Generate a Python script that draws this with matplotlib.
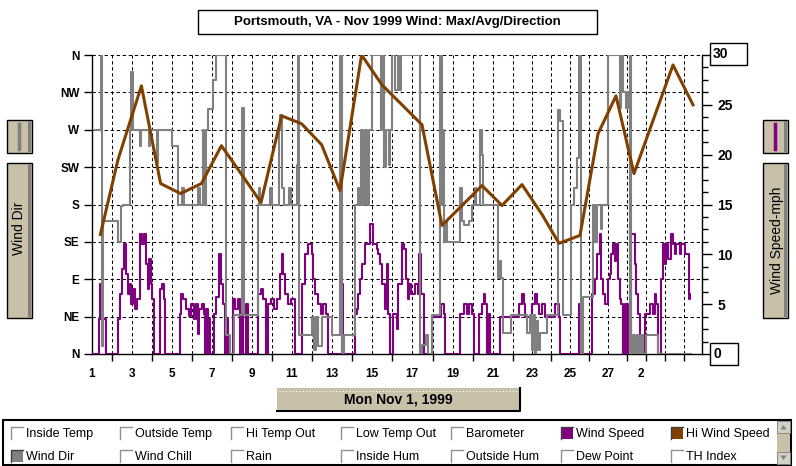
import numpy as np
import matplotlib
matplotlib.use("Agg")
import matplotlib.pyplot as plt
import matplotlib.transforms as mtransforms
from matplotlib.patches import Rectangle, Polygon

plt.rcParams['font.family'] = ['Liberation Sans', 'DejaVu Sans']

W, H = 796, 466

# x positions are in plot "day" units (1 unit = one daily grid step)
grid_days = list(range(0, 17)) + [17.05, 18.05, 19.05, 20.05, 21.05, 22.0, 22.95,
                                  23.9, 24.85, 25.8, 26.75, 27.7, 28.65, 29.6]
day_ticks = [0, 2, 4, 6, 8, 10, 12, 14, 16, 18.05, 20.05, 22.0, 23.9, 25.8, 27.45]
day_labels = ['1', '3', '5', '7', '9', '11', '13', '15', '17', '19', '21', '23', '25', '27', '2']

dir_levels = [0, 45, 90, 135, 180, 225, 270, 315, 360]
dir_labels = ['N', 'NE', 'E', 'SE', 'S', 'SW', 'W', 'NW', 'N']

# Wind speed (mph), step series
speed_t = [0.00, 0.37, 0.42, 0.47, 0.72, 1.30, 1.38, 1.50, 1.62, 1.70, 1.80, 1.90, 1.97,
           2.05, 2.15, 2.25, 2.38, 2.50, 2.60, 2.70, 2.80, 2.85, 2.95, 3.02, 3.08, 3.38,
           3.50, 3.58, 3.66, 4.40, 4.45, 4.55, 4.70, 4.85, 4.95, 5.10, 5.20, 5.28, 5.35,
           5.50, 5.60, 5.65, 5.72, 5.78, 5.85, 5.92, 6.08, 6.20, 6.35, 6.45, 6.55, 6.65,
           6.75, 6.80, 7.05, 7.15, 7.30, 7.40, 7.50, 7.55, 7.70, 7.78, 8.30, 8.45, 8.55,
           8.68, 8.82, 8.95, 9.10, 9.25, 9.40, 9.48, 9.57, 9.65, 9.80, 9.95, 10.15, 10.48,
           10.65, 10.82, 10.98, 11.07, 11.15, 11.30, 11.45, 11.55, 11.72, 11.82, 12.48,
           12.57, 13.15, 13.25, 13.32, 13.40, 13.48, 13.65, 13.90, 14.07, 14.23, 14.32,
           14.40, 14.48, 14.65, 14.73, 14.82, 14.90, 15.07, 15.23, 15.32, 15.48, 15.62,
           15.70, 15.78, 15.85, 15.95, 16.15, 16.30, 16.37, 16.45, 16.60, 17.00, 17.47,
           17.58, 17.67, 18.42, 18.58, 18.75, 18.83, 19.00, 19.08, 19.33, 19.50, 19.58,
           19.65, 19.75, 19.83, 19.92, 20.42, 21.33, 21.50, 21.58, 21.67, 22.00, 22.17,
           22.25, 22.33, 22.50, 22.67, 23.17, 23.33, 23.40, 24.33, 24.43, 25.00, 25.13,
           25.27, 25.38, 25.43, 25.47, 25.55, 25.63, 25.80, 25.88, 25.97, 26.05, 26.13,
           26.22, 26.30, 26.38, 26.47, 26.55, 26.63, 26.68, 26.75, 26.80, 26.87, 26.92,
           26.97, 27.13, 27.22, 27.30, 27.38, 27.67, 27.88, 28.05, 28.13, 28.22, 28.30,
           28.47, 28.55, 28.63, 28.72, 28.80, 28.97, 29.05, 29.13, 29.22, 29.38, 29.47,
           29.63, 29.83, 29.90]
speed_mph = [0, 3.5, 7, 3.5, 0, 3.5, 6, 8.5, 11, 8, 6, 7, 5,
             6.5, 4.5, 5.5, 12, 11, 12, 9, 6.5, 9.5, 7, 5.5, 0, 6.5,
             7, 5.5, 0, 4, 6, 5.5, 4.5, 3.8, 5, 3.5, 5, 2, 4.5,
             5, 4, 0, 4.5, 0, 3.5, 0, 4, 5.7, 10, 7, 5, 0,
             3.5, 0, 5.5, 4.5, 5.5, 0, 4.5, 0, 5, 0, 6, 6.5, 5.5,
             0, 5, 5.5, 4.5, 5.5, 8, 10, 8, 6, 5, 5.5, 0, 7,
             10, 11, 10, 7.5, 6, 5, 4, 5, 4, 0, 7,
             0, 4, 4.5, 6, 7.5, 9, 11, 13, 11, 10.5, 10,
             9, 7, 4.5, 9, 4, 0, 4, 2.5, 7, 11, 10.5,
             7.5, 5.5, 7, 6, 7, 6, 10, 6, 0, 3.75, 5,
             4, 0, 4, 5, 4, 5, 4, 0, 4, 5, 6,
             5, 0, 4, 0, 3.75, 5, 6, 5, 3.75, 5, 6,
             5, 4, 5, 3.75, 5, 3.75, 0, 5, 0, 6, 7.5,
             10, 12, 10, 7.5, 6, 5, 7.5, 8, 10, 11, 9.3,
             11, 7.5, 5.5, 5, 0, 5, 0, 5, 0, 4, 0,
             12, 9, 6, 4, 0, 4, 5, 4, 6, 5, 0,
             7.5, 11, 9, 11, 9.5, 12, 11, 10, 11, 10, 11,
             10, 5.5, 6]

# Wind direction (degrees, 0 = N at bottom, 360 = N at top), step series
dir_t = [0.17, 0.45, 0.50, 0.55, 1.30, 1.45, 1.55, 1.88, 1.95, 2.05, 2.40, 2.45, 2.85,
         2.90, 3.25, 3.30, 4.00, 4.30, 4.50, 4.60, 5.30, 5.40, 5.55, 5.62, 5.70, 5.80,
         6.05, 6.20, 6.72, 6.90, 7.12, 7.50, 7.62, 8.28, 8.35, 8.42, 8.90, 9.00, 9.35,
         9.42, 9.50, 9.60, 9.85, 9.95, 10.23, 10.32, 10.37, 11.00, 11.10, 11.20, 11.30,
         11.50, 12.00, 12.40, 12.48, 12.60, 13.15, 13.30, 13.35, 13.45, 13.55, 13.65,
         13.75, 13.85, 13.98, 14.45, 14.55, 14.62, 14.70, 14.85, 14.90, 15.00, 15.15,
         15.30, 15.35, 15.45, 16.42, 16.50, 16.68, 16.80, 17.00, 17.42, 17.48, 17.55,
         17.60, 17.68, 17.75, 18.42, 18.50, 18.58, 18.83, 19.00, 19.15, 19.20, 19.42,
         19.50, 19.55, 20.30, 20.38, 20.45, 20.55, 20.95, 21.75, 21.90, 22.00, 22.05,
         22.15, 22.20, 22.30, 22.40, 22.75, 23.30, 23.40, 23.55, 23.97, 24.10, 24.25,
         24.33, 24.45, 24.55, 25.05, 25.15, 25.25, 25.45, 25.50, 25.80, 26.38, 26.45,
         26.55, 26.70, 26.80, 26.88, 26.92, 26.97, 27.05, 27.15, 27.25, 27.35, 27.45,
         27.55, 27.72, 28.30, 29.95]
dir_deg = [270, 360, 10, 160, 135, 178, 180, 270, 340, 270, 250, 270, 250,
           270, 230, 270, 250, 180, 200, 180, 200, 180, 270, 180, 270, 295,
           330, 360, 23, 0, 47, 296, 47, 180, 200, 180, 200, 180, 270,
           288, 200, 180, 200, 180, 228, 360, 23, 45, 5, 45, 10,
           45, 23, 360, 0, 23, 180, 200, 180, 270, 180, 270,
           180, 270, 360, 270, 360, 225, 270, 228, 270, 360, 318,
           360, 318, 360, 0, 11, 23, 0, 47, 360, 180, 270,
           135, 160, 135, 200, 160, 155, 160, 180, 200, 180, 270,
           240, 180, 92, 112, 92, 25, 47, 25, 47, 5, 47,
           0, 40, 5, 25, 47, 294, 280, 47, 180, 200, 236,
           360, 0, 69, 180, 135, 180, 150, 180, 360, 296, 360,
           316, 296, 316, 0, 360, 0, 23, 0, 23, 0, 23,
           0, 23, 0, 0]

# Hi wind speed (mph), daily points
hi_t = [0.42, 1.3, 2.47, 3.43, 4.43, 5.47, 6.47, 7.45, 8.45, 9.48, 10.48, 11.48, 12.4,
        13.48, 14.5, 15.5, 16.5, 17.5, 18.5, 19.5, 20.5, 21.5, 22.5, 23.35, 24.4, 25.3,
        26.2, 27.1, 28.1, 29.05, 30.05]
hi_mph = [12.0, 19.5, 26.9, 17.1, 16.1, 17.1, 20.9, 18.1, 15.2, 23.9, 23.1, 21.0, 16.4,
          30.0, 27.0, 25.0, 23.0, 12.9, 14.9, 16.9, 14.9, 17.0, 14.0, 11.1, 11.9, 22.1,
          25.9, 18.1, 23.7, 29.0, 25.0]

legend_items = [('Inside Temp', None), ('Outside Temp', None), ('Hi Temp Out', None),
                ('Low Temp Out', None), ('Barometer', None), ('Wind Speed', '#800080'),
                ('Hi Wind Speed', '#804000'),
                ('Wind Dir', '#808080'), ('Wind Chill', None), ('Rain', None),
                ('Inside Hum', None), ('Outside Hum', None), ('Dew Point', None),
                ('TH Index', None)]

C_SPEED = '#800080'
C_DIR = '#808080'
C_HI = '#804000'
BEIGE = '#c8c0a8'

fig = plt.figure(figsize=(W / 100, H / 100), dpi=100)
fig.patch.set_facecolor('white')
# pixel coordinates, origin top-left
T = mtransforms.Affine2D().scale(1 / W, -1 / H).translate(0, 1) + fig.transFigure

pos = [92 / W, 1 - 354 / H, 610 / W, 299 / H]

# base axes: grid, direction labels, day labels
ax = fig.add_axes(pos)
ax.set_xlim(0, 30.5)
ax.set_ylim(0, 360)
ax.patch.set_alpha(0)
for s in ['top', 'right']:
    ax.spines[s].set_visible(False)
ax.spines['left'].set_linewidth(1)
ax.spines['bottom'].set_linewidth(1)
ax.set_yticks(dir_levels)
ax.set_yticklabels(dir_labels, fontsize=8.5, fontweight='bold')
ax.tick_params(axis='y', length=6, width=1, pad=3)
ax.set_xticks(day_ticks)
ax.set_xticklabels(day_labels, fontsize=8.5, fontweight='bold')
ax.tick_params(axis='x', which='major', length=0, pad=10)
ax.set_xticks(grid_days, minor=True)
ax.tick_params(axis='x', which='minor', length=5, width=1)
dash = (0, (3.2, 2.6))
for g in grid_days[1:]:
    ax.axvline(g, color='black', lw=0.75, ls=dash, zorder=0.5)
for lv in dir_levels[1:]:
    ax.axhline(lv, color='black', lw=0.75, ls=dash, zorder=0.5)

# wind speed
ax_s = ax.twinx()
ax_s.set_ylim(0, 30)
ax_s.set_axis_off()
ax_s.plot(speed_t, speed_mph, drawstyle='steps-post', color=C_SPEED, lw=1.5)

# wind direction
ax_d = ax.twinx()
ax_d.set_ylim(0, 360)
ax_d.set_axis_off()
ax_d.plot(dir_t, dir_deg, drawstyle='steps-post', color=C_DIR, lw=1.5)

# hi wind speed + right axis
ax_h = ax.twinx()
ax_h.set_ylim(0, 30)
ax_h.set_xlim(0, 30.5)
for s in ['top', 'left', 'bottom']:
    ax_h.spines[s].set_visible(False)
ax_h.spines['right'].set_linewidth(1)
ax_h.plot(hi_t, hi_mph, color=C_HI, lw=2.2, solid_joinstyle='round')
ax_h.set_yticks([0, 5, 10, 15, 20, 25, 30])
ax_h.set_yticklabels(['', '5', '10', '15', '20', '25', ''], fontsize=10, fontweight='bold')
ax_h.tick_params(axis='y', which='major', length=7, width=1, pad=4)
ax_h.set_yticks(np.arange(0, 30.01, 1.25), minor=True)
ax_h.tick_params(axis='y', which='minor', length=4, width=1)


def box(x, y, w, h, fc='white', ec='black', lw=1.0, z=1):
    fig.patches.append(Rectangle((x, y), w, h, transform=T, facecolor=fc,
                                 edgecolor=ec, lw=lw, zorder=z))


def pline(xs, ys, color, lw=1.0, ls='-'):
    fig.lines.append(plt.Line2D(xs, ys, transform=T, color=color, lw=lw, ls=ls))


def button(x, y, w, h):
    box(x, y, w, h, fc=BEIGE, ec='black', lw=1.0)
    box(x + w - 4, y + 1, 3, h - 2, fc='#808080', ec='none')


# title
box(198, 10, 399, 24)
fig.text(397.5, 22.5, 'Portsmouth, VA - Nov 1999 Wind: Max/Avg/Direction', transform=T,
         ha='center', va='center', fontsize=9.5, fontweight='bold')

# right axis end labels in boxes
box(710, 43, 37, 22)
fig.text(713, 54, '30', transform=T, ha='left', va='center', fontsize=10, fontweight='bold')
box(710, 343, 28, 22)
fig.text(713, 354, '0', transform=T, ha='left', va='center', fontsize=10, fontweight='bold')

# side buttons
button(7, 120, 25, 33)
pline([19, 19], [124, 149], C_DIR, lw=2.5)
button(7, 163, 25, 155)
fig.text(19, 228, 'Wind Dir', transform=T, rotation=90, ha='center', va='center', fontsize=10)
button(763, 120, 25, 33)
pline([775, 775], [124, 149], C_SPEED, lw=2.5)
button(763, 163, 25, 155)
fig.text(777, 240, 'Wind Speed-mph', transform=T, rotation=90, ha='center', va='center',
         fontsize=10)

# date button
box(277, 388, 243, 23, fc=BEIGE, ec='none')
pline([277, 520, 520], [411, 411, 388], 'black', lw=1.5)
pline([279, 518], [390.5, 390.5], 'white', lw=0.8, ls=(0, (1, 2)))
fig.text(398, 399.5, 'Mon Nov 1, 1999', transform=T, ha='center', va='center',
         fontsize=10, fontweight='bold')

# legend panel
box(3, 420, 788, 45, fc='white', ec='black', lw=1.5)
col_x = [11, 120, 231, 341, 451, 561, 671]
row_y = [433, 455.5]
for i, (name, col) in enumerate(legend_items):
    cx = col_x[i % 7]
    cy = row_y[i // 7]
    if col is None:
        box(cx, cy - 6, 12, 12, fc='white', ec='none')
        pline([cx, cx, cx + 12], [cy + 6, cy - 6, cy - 6], '#909090', lw=1.0)
    else:
        box(cx, cy - 6, 12, 12, fc=col, ec='none')
        pline([cx, cx, cx + 12], [cy + 6, cy - 6, cy - 6], '#404040', lw=1.0)
    fig.text(cx + 15, cy + 1, name, transform=T, ha='left', va='center', fontsize=9)

# scroll bar
box(777, 421, 13, 43, fc=BEIGE, ec='none')
box(777, 421, 13, 12, fc='#d4d0c8', ec='#808080', lw=0.6)
box(777, 452, 13, 12, fc='#d4d0c8', ec='#808080', lw=0.6)
fig.patches.append(Polygon([[780.5, 429.5], [786.5, 429.5], [783.5, 425]], closed=True,
                           transform=T, facecolor='#808080', edgecolor='none'))
fig.patches.append(Polygon([[780.5, 455.5], [786.5, 455.5], [783.5, 460]], closed=True,
                           transform=T, facecolor='#808080', edgecolor='none'))

fig.savefig('out.png', dpi=100)
